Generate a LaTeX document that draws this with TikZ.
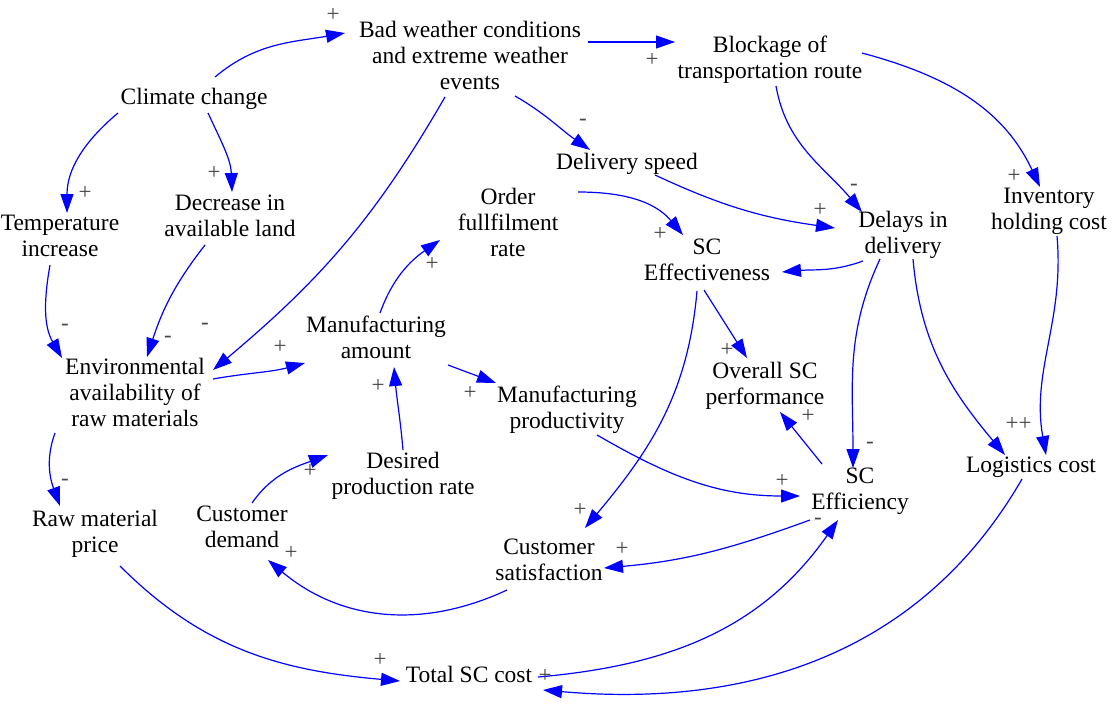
\documentclass[tikz,border=0pt]{standalone}
\usepackage{fontspec}
\setmainfont{Liberation Serif}
\usetikzlibrary{arrows.meta}
\definecolor{lnkblue}{RGB}{0,0,255}
\begin{document}
\begin{tikzpicture}[x=1pt,y=1pt,
  var/.style={align=center, inner sep=0pt, font=\fontsize{23.5}{26}\selectfont,
    execute at begin node=\strut, execute at end node=\strut},
  sgn/.style={inner sep=0pt, text=black!72, font=\fontsize{23}{23}\selectfont},
  lnk/.style={draw=lnkblue, line width=1.2pt, -{Triangle[length=19pt,width=13pt]}},
]
\useasboundingbox (0,0) rectangle (1113,-704);
% variables
\node[var] (cc) at (194,-99) {Climate change};
\node[var] (bw) at (470,-59) {Bad weather conditions\\and extreme weather\\events};
\node[var] (blk) at (770,-61) {Blockage of\\transportation route};
\node[var] (ds) at (627,-164) {Delivery speed};
\node[var] (ti) at (60,-240) {Temperature\\increase};
\node[var] (dl) at (230,-220) {Decrease in\\available land};
\node[var] (ofr) at (508,-226) {Order\\fullfilment\\rate};
\node[var] (sce) at (707,-264) {SC\\Effectiveness};
\node[var] (dd) at (903,-236) {Delays in\\delivery};
\node[var] (ihc) at (1049,-213) {Inventory\\holding cost};
\node[var] (env) at (135,-396) {Environmental\\availability of\\raw materials};
\node[var] (ma) at (376,-341) {Manufacturing\\amount};
\node[var] (osp) at (765,-387) {Overall SC\\performance};
\node[var] (mp) at (567,-411) {Manufacturing\\productivity};
\node[var] (dpr) at (403,-477) {Desired\\production rate};
\node[var] (sef) at (860,-493) {SC\\Efficiency};
\node[var] (lc) at (1031,-467) {Logistics cost};
\node[var] (rmp) at (95,-535) {Raw material\\price};
\node[var] (cd) at (242,-531) {Customer\\demand};
\node[var] (cs) at (549,-564) {Customer\\satisfaction};
\node[var] (tsc) at (469,-677) {Total SC cost};
% links
\draw[lnk] ([shift={(21,22)}]cc.center) to[out=40,in=190] ([shift={(-125,26)}]bw.center);
\draw[lnk] ([shift={(-76,-14)}]cc.center) to[out=220,in=90] ([shift={(7,27)}]ti.center);
\draw[lnk] ([shift={(14,-14)}]cc.center) to[out=-65,in=92] ([shift={(2,28)}]dl.center);
\draw[lnk] ([shift={(118,17)}]bw.center) -- ([shift={(-95,19)}]blk.center);
\draw[lnk] ([shift={(45,-37)}]bw.center) to[out=-30,in=145] ([shift={(-37,14)}]ds.center);
\draw[lnk] ([shift={(-25,-38)}]bw.center) to[out=-120,in=40] ([shift={(78,26)}]env.center);
\draw[lnk] ([shift={(6,-25)}]blk.center) to[out=-80,in=130] ([shift={(-41,24)}]dd.center);
\draw[lnk] ([shift={(92,8)}]blk.center) to[out=-15,in=115] ([shift={(-9,26)}]ihc.center);
\draw[lnk] ([shift={(28,-11)}]ds.center) to[out=-25,in=172] ([shift={(-68,8)}]dd.center);
\draw[lnk] ([shift={(70,34)}]ofr.center) to[out=0,in=130] ([shift={(-24,29)}]sce.center);
\draw[lnk] ([shift={(-40,-25)}]dd.center) to[out=200,in=5] ([shift={(75,-8)}]sce.center);
\draw[lnk] ([shift={(-10,-25)}]ti.center) to[out=-100,in=120] ([shift={(-73,38)}]env.center);
\draw[lnk] ([shift={(-25,-25)}]dl.center) to[out=-128,in=72] ([shift={(12,39)}]env.center);
\draw[lnk] ([shift={(78,17)}]env.center) to[out=10,in=195] ([shift={(-71,-22)}]ma.center);
\draw[lnk] ([shift={(-80,-37)}]env.center) to[out=-110,in=110] ([shift={(-35,29)}]rmp.center);
\draw[lnk] ([shift={(4,28)}]ma.center) to[out=70,in=215] ([shift={(-68,-14)}]ofr.center);
\draw[lnk] ([shift={(72,-24)}]ma.center) -- ([shift={(-71,28)}]mp.center);
\draw[lnk] ([shift={(0,27)}]dpr.center) to[out=95,in=-85] ([shift={(18,-26)}]ma.center);
\draw[lnk] ([shift={(10,28)}]cd.center) to[out=55,in=200] ([shift={(-75,22)}]dpr.center);
\draw[lnk] ([shift={(-3,-26)}]sce.center) -- ([shift={(-18,29)}]osp.center);
\draw[lnk] ([shift={(-10,-27)}]sce.center) to[out=-95,in=50] ([shift={(36,36)}]cs.center);
\draw[lnk] ([shift={(30,-24)}]mp.center) to[out=-30,in=180] ([shift={(-60,-3)}]sef.center);
\draw[lnk] ([shift={(-38,29)}]sef.center) -- ([shift={(15,-25)}]osp.center);
\draw[lnk] ([shift={(-50,-27)}]sef.center) to[out=200,in=5] ([shift={(55,-4)}]cs.center);
\draw[lnk] ([shift={(-42,-26)}]cs.center) to[out=-155,in=-40] ([shift={(26,-29)}]cd.center);
\draw[lnk] ([shift={(-23,-23)}]dd.center) to[out=-115,in=90] ([shift={(-7,25)}]sef.center);
\draw[lnk] ([shift={(10,-23)}]dd.center) to[out=-85,in=130] ([shift={(-26,12)}]lc.center);
\draw[lnk] ([shift={(8,-23)}]ihc.center) to[out=-85,in=100] ([shift={(15,12)}]lc.center);
\draw[lnk] ([shift={(25,-31)}]rmp.center) to[out=-45,in=175] ([shift={(-69,-4)}]tsc.center);
\draw[lnk] ([shift={(69,0)}]tsc.center) to[out=5,in=-125] ([shift={(-22,-27)}]sef.center);
\draw[lnk] ([shift={(-9,-12)}]lc.center) to[out=-120,in=-5] ([shift={(74,-13)}]tsc.center);
% polarity signs
\foreach \px/\py/\s [count=\i] in {
  333/15/+, 85/193/+, 214/173/+, 652/60/+, 583/122/-, 205/326/-, 854/187/-,
  1014/176/+, 820/210/+, 660/234/+, 65/327/-, 168/339/-, 280/347/+, 65/482/-,
  432/264/+, 470/393/+, 378/386/+, 310/471/+, 727/350/+, 580/510/+, 782/481/+,
  808/416/+, 622/549/+, 291/553/+, 870/445/-, 1012/424/+, 1025/424/+,
  380/660/+, 818/521/-, 545/676/+}
  \node[sgn] (s\i) at (\px,-\py) {\s};
\end{tikzpicture}
\end{document}
